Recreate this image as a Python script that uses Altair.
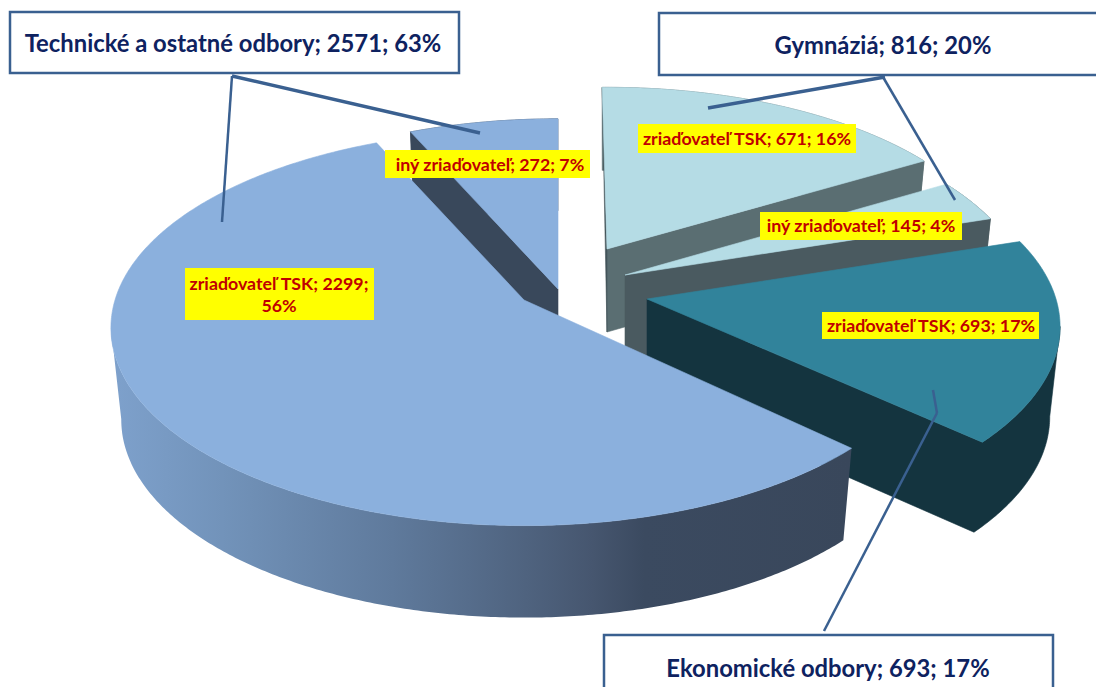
import math
import altair as alt

# ---- data
slice_names = ["zriaďovateľ TSK", "iný zriaďovateľ", "zriaďovateľ TSK", "zriaďovateľ TSK", "iný zriaďovateľ"]
slice_values = [671, 145, 693, 2299, 272]
slice_groups = ["Gymnáziá", "Gymnáziá", "Ekonomické odbory", "Technické a ostatné odbory", "Technické a ostatné odbory"]
slice_pct = ["16%", "4%", "17%", "56%", "7%"]

group_titles = ["Technické a ostatné odbory; 2571; 63%", "Gymnáziá; 816; 20%", "Ekonomické odbory; 693; 17%"]

# ---- 3D look: position of each exploded slice (apex), scale, wall depth
OFF = 8
W, H = 1088, 679
A, B, K = 409.0, 194.0, 0.14
slice_cx = [607, 625, 647, 524, 558]
slice_cy = [249, 275, 299, 300, 289]
slice_sx = [0.967, 0.98, 1.0, 1.0, 1.0]
slice_sy = [0.95, 0.98, 1.0, 1.0, 1.0]
slice_depth = [83, 85, 90, 92, 92]
# small perspective corrections of the slice edges (radians)
trim_start = [-0.014, 0.0, 0.0, 0.009, 0.0]
trim_end = [0.0, 0.0, -0.02, 0.0, 0.0]
top_colors = ["#B5DCE5", "#B5DCE5", "#31839B", "#8BB0DD", "#8BB0DD"]
radial_colors = ["#5A6E72", "#4A5A60", "#14343F", "#39485B", "#39485B"]
SHRINK = 0.975

big_wall = alt.Gradient(
    gradient="linear", x1=0, x2=1, y1=0, y2=0,
    stops=[
        alt.GradientStop(offset=0.0, color="#7EA1CC"),
        alt.GradientStop(offset=0.15, color="#7293BA"),
        alt.GradientStop(offset=0.38, color="#5F7A9C"),
        alt.GradientStop(offset=0.56, color="#4F637F"),
        alt.GradientStop(offset=0.65, color="#46566F"),
        alt.GradientStop(offset=0.72, color="#3B4A60"),
        alt.GradientStop(offset=1.0, color="#39475B"),
    ],
)
side_colors = ["#5A6E72", "#4A5A60", "#14343F", big_wall, "#39485B"]

total = sum(slice_values)
edges = [0.0]
for v in slice_values:
    edges.append(edges[-1] + v / total * 2 * math.pi)


def top_pt(i, ang):
    X, Y = math.sin(ang), math.cos(ang)
    s = 1 / (1 + K * Y)
    return (slice_cx[i] + A * X * s * slice_sx[i], slice_cy[i] - B * Y * s * slice_sy[i])


def bottom_pt(i, p):
    return (slice_cx[i] + (p[0] - slice_cx[i]) * SHRINK, p[1] + slice_depth[i])


def arc_pts(i, a0, a1):
    n = max(2, int(abs(a1 - a0) / 0.01))
    return [top_pt(i, a0 + (a1 - a0) * j / n) for j in range(n + 1)]


def poly(points):
    ring = [[round(x - OFF, 2), round(y - OFF, 2)] for x, y in points]
    ring.append(ring[0])
    return {"type": "Feature", "properties": {}, "geometry": {"type": "Polygon", "coordinates": [ring]}}


frame = poly([(OFF, OFF), (OFF + W, OFF), (OFF + W, OFF + H), (OFF, OFF + H)])
PROJ = dict(type="identity", scale=1, translate=[0, 0])


def geo(feature, fill):
    kw = {"stroke": fill, "strokeWidth": 0.6} if isinstance(fill, str) else {"strokeWidth": 0}
    return (
        alt.Chart(alt.Data(values=[feature]))
        .mark_geoshape(fill=fill, **kw)
        .project(**PROJ)
    )


layers = [geo(frame, "#ffffff")]

# back-to-front drawing order of the exploded slices
for i in [0, 1, 4, 2, 3]:
    a0, a1 = edges[i] + trim_start[i], edges[i + 1] + trim_end[i]
    arc = arc_pts(i, a0, a1)
    apex = (slice_cx[i], slice_cy[i])
    apex_b = bottom_pt(i, apex)
    if i == 2:
        # radial wall and rim in one piece: same colour, no seam
        k = max(range(len(arc)), key=lambda j: arc[j][0])
        rim = arc[k:]
        outline = [apex] + list(reversed(rim)) + [bottom_pt(i, p) for p in rim] + [apex_b]
        layers.append(geo(poly(outline), side_colors[i]))
    elif i == 3:
        k = min(range(len(arc)), key=lambda j: arc[j][0])
        rim = arc[:k + 1]
        layers.append(geo(poly(rim + [bottom_pt(i, p) for p in reversed(rim)]), side_colors[i]))
    else:
        layers.append(geo(poly(arc + [bottom_pt(i, p) for p in reversed(arc)]), side_colors[i]))
        end = arc[0] if i == 4 else arc[-1]
        layers.append(geo(poly([apex, end, bottom_pt(i, end), apex_b]), radial_colors[i]))
    if i == 0:
        # thin sliver of the wall at the slice's left edge
        layers.append(geo(poly([arc[0], apex, apex_b]), "#44555A"))
    # top face
    layers.append(geo(poly([apex] + arc), top_colors[i]))

# ---- leader lines
ln_x = [232, 232, 885, 883, 824, 937]
ln_y = [76, 76, 77, 77, 631, 413]
ln_x2 = [222, 480, 708, 955, 937, 933]
ln_y2 = [222, 133, 108, 200, 413, 390]
ln_w = [2.5, 3.4, 3.4, 2.5, 2.5, 2.5]
leaders = alt.Chart(
    alt.Data(values=[
        {"x": a - OFF, "y": b - OFF, "x2": c - OFF, "y2": d - OFF, "w": w}
        for a, b, c, d, w in zip(ln_x, ln_y, ln_x2, ln_y2, ln_w)
    ])
).mark_rule(color="#3A6090").encode(
    x=alt.X("x:Q", scale=None, axis=None),
    y=alt.Y("y:Q", scale=None, axis=None),
    x2="x2:Q",
    y2="y2:Q",
    strokeWidth=alt.StrokeWidth("w:Q", scale=None, legend=None),
)
layers.append(leaders)

# ---- yellow data labels
lab_text = [
    f"{slice_names[0]}; {slice_values[0]}; {slice_pct[0]}",
    f"{slice_names[1]}; {slice_values[1]}; {slice_pct[1]}",
    f"{slice_names[2]}; {slice_values[2]}; {slice_pct[2]}",
    f"{slice_names[3]}; {slice_values[3]};",
    f"{slice_pct[3]}",
    f"{slice_names[4]}; {slice_values[4]}; {slice_pct[4]}",
]
lab_x = [747, 861, 931, 279, 279, 490]
lab_y = [140, 227, 327, 285, 307, 166]
box_x = [638, 760, 822, 185, 385]
box_x2 = [856, 962, 1039, 374, 590]
box_y = [124, 212, 312, 268, 150]
box_y2 = [153, 240, 339, 320, 178]

yellow = alt.Chart(
    alt.Data(values=[
        {"x": a - OFF, "y": b - OFF, "x2": c - OFF, "y2": d - OFF}
        for a, c, b, d in zip(box_x, box_x2, box_y, box_y2)
    ])
).mark_rect(fill="#FFFF00").encode(
    x=alt.X("x:Q", scale=None, axis=None),
    y=alt.Y("y:Q", scale=None, axis=None),
    x2="x2:Q",
    y2="y2:Q",
)
layers.append(yellow)

labels = alt.Chart(
    alt.Data(values=[{"x": a - OFF, "y": b - OFF, "t": t} for a, b, t in zip(lab_x, lab_y, lab_text)])
).mark_text(font="Lato", fontWeight="bold", fontSize=17.8, color="#C00000", align="center", baseline="middle").encode(
    x=alt.X("x:Q", scale=None, axis=None),
    y=alt.Y("y:Q", scale=None, axis=None),
    text="t:N",
)
layers.append(labels)

# ---- white group call-out boxes
cb_x = [10, 659, 604]
cb_x2 = [459, 1110, 1053]
cb_y = [12, 13, 635]
cb_y2 = [73, 75, 720]
title_x = [233, 883, 828]
title_y = [45, 47, 670]

callouts = alt.Chart(
    alt.Data(values=[
        {"x": a - OFF, "y": b - OFF, "x2": c - OFF, "y2": d - OFF}
        for a, c, b, d in zip(cb_x, cb_x2, cb_y, cb_y2)
    ])
).mark_rect(fill="#FFFFFF", stroke="#3A6090", strokeWidth=2.5).encode(
    x=alt.X("x:Q", scale=None, axis=None),
    y=alt.Y("y:Q", scale=None, axis=None),
    x2="x2:Q",
    y2="y2:Q",
)
layers.append(callouts)

titles = alt.Chart(
    alt.Data(values=[{"x": a - OFF, "y": b - OFF, "t": t} for a, b, t in zip(title_x, title_y, group_titles)])
).mark_text(font="Lato", fontWeight="bold", fontSize=23.8, color="#0E2260", align="center", baseline="middle").encode(
    x=alt.X("x:Q", scale=None, axis=None),
    y=alt.Y("y:Q", scale=None, axis=None),
    text="t:N",
)
layers.append(titles)

chart = (
    alt.layer(*layers)
    .properties(width=W, height=H, padding=0, autosize=alt.AutoSizeParams(type="none"), background="#ffffff")
    .configure_view(stroke=None)
)
chart.save("out.html", embed_options={"renderer": "svg", "actions": False})
